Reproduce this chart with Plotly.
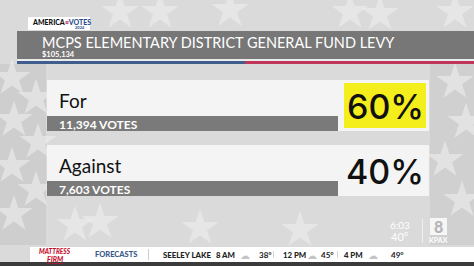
import plotly.graph_objects as go

# ---- data ----
title_text = "MCPS ELEMENTARY DISTRICT GENERAL FUND LEVY"
subtitle_text = "$105,134"
choices = ["For", "Against"]
votes = [11394, 7603]
percents = [60, 40]
winner = "For"

ticker_label = "FORECASTS"
ticker_city = "SEELEY LAKE"
ticker_times = ["8 AM", "12 PM", "4 PM"]
ticker_temps = [38, 45, 49]
clock_time = "6:03"
clock_temp = 40
station = "KPAX"
channel = "8"

# decorative stars of the flag backdrop
star_x = [12, 36, 14, 38, 12, 36, 14, 100, 455, 466, 445, 462, 300, 160, 230, 380, 120, 350, 455, 75, 200]
star_y = [78, 98, 120, 142, 166, 190, 214, 222, 82, 122, 160, 200, 230, 12, 10, 14, 12, 12, 12, 225, 228]

W, H = 474, 266
BG = "#dadada"
HEADER = "#777777"
BAR = "#7a7a7a"
PANEL = "#f4f4f4"
YELLOW = "#f4ee1c"

fig = go.Figure()

fig.add_trace(go.Scatter(
    x=star_x, y=star_y, mode="markers",
    marker=dict(symbol="star", size=28, color="rgba(238,238,238,0.6)", line=dict(width=0)),
    hoverinfo="skip", showlegend=False))

shapes = []
ann = []

def rect(x0, y0, x1, y1, color, layer="above"):
    shapes.append(dict(type="rect", xref="x", yref="y", x0=x0, y0=y0, x1=x1, y1=y1,
                       fillcolor=color, line=dict(width=0), layer=layer))

def text(x, y, s, size, color, family="Lato", weight=400, xanchor="left", yanchor="middle", style="normal"):
    ann.append(dict(x=x, y=y, xref="x", yref="y", text=s, showarrow=False,
                    xanchor=xanchor, yanchor=yanchor, borderpad=0,
                    align="left" if xanchor == "left" else "center",
                    font=dict(size=size, color=color, family=family, weight=weight, style=style)))

# darker flag side strips (behind stars)
rect(0, 64, 46, 245, "#cecece", layer="below")
rect(430, 64, W, 245, "#d0d0d0", layer="below")

# header
rect(17, 31, W, 59, HEADER)
rect(17, 59, W, 61, "#ebebeb")
rect(17, 61, 245, 64, "#3f5e8e")
rect(245, 61, W, 64, "#c0355a")
text(41, 42, title_text, 14.5, "white", family="Lato", weight=400)
text(41, 54, subtitle_text, 7.5, "white", family="Lato", weight=700)

# America votes logo
rect(28, 17, 90, 30, "white")
text(31, 22, "AMERICA<span style='color:#c0355a'>≡</span><span style='color:#2a4f8f'>VOTES</span>",
     7, "#111111", family="Lato", weight=900)
text(74, 27.5, "2024", 4, "#2a4f8f", family="Lato", weight=700)

# result panels
panel_top = [80, 145]
for i, c in enumerate(choices):
    t = panel_top[i]
    rect(47, t, 429, t + 51, PANEL)
    rect(47, t + 36, 338, t + 51, BAR)
    text(58, t + 20, c, 19, "#111111", family="Lato", weight=400)
    text(58, t + 44, f"{votes[i]:,} VOTES", 12, "white", family="Lato", weight=700)
    if c == winner:
        rect(344, t + 3, 426, t + 48, YELLOW)
    text(385, t + 26, f"{percents[i]}%", 34, "#111111", family="Inter", weight=500, xanchor="center")

# clock and station bug
text(400, 225, clock_time, 10, "white", family="Lato", weight=400, xanchor="center")
text(400, 236, f"{clock_temp}°", 11, "white", family="Lato", weight=400, xanchor="center")
rect(422, 219, 423, 243, "#f0f0f0")
rect(430, 218, 447, 235, "rgba(250,250,250,0.9)")
text(438.5, 226.5, channel, 16, "#b5b5b5", family="Lato", weight=900, xanchor="center")
text(438.5, 240, station, 7, "white", family="Lato", weight=700, xanchor="center")

# ticker
rect(30, 247, W, 262, "white")
rect(0, 262, W, H, "#3b3b3b")
text(55, 251, "MATTRESS", 6.5, "#c8102e", family="Lato", weight=900, xanchor="center", style="italic")
text(55, 258.5, "<u>FIRM</u>", 7, "#c8102e", family="Lato", weight=900, xanchor="center", style="italic")
text(94, 254.5, ticker_label, 7.5, "#3a5a8c", family="Lato", weight=900)
rect(148, 249, 149, 260, "#cccccc")
text(162, 254.5, ticker_city, 7.8, "#222222", family="Lato", weight=900)
tx = [215, 282, 343]
icon_dx = [30, 30, 30]
temp_dx = [43, 38, 47]
for i in range(len(ticker_times)):
    text(tx[i], 254.5, ticker_times[i], 7.8, "#222222", family="Lato", weight=900)
    ann.append(dict(x=tx[i] + icon_dx[i], y=254.5, xref="x", yref="y", text="☁", showarrow=False,
                    xanchor="center", yanchor="middle", font=dict(size=10, color="#c4c4c4")))
    text(tx[i] + temp_dx[i], 254.5, f"{ticker_temps[i]}°", 8, "#222222", family="Lato", weight=700)
    if i < 2:
        sx = tx[i] + (58 if i == 0 else 55)
        rect(sx, 251, sx + 0.8, 258, "#cccccc")

fig.update_layout(
    width=W, height=H, margin=dict(l=0, r=0, t=0, b=0),
    paper_bgcolor=BG, plot_bgcolor=BG,
    xaxis=dict(range=[0, W], visible=False, fixedrange=True),
    yaxis=dict(range=[H, 0], visible=False, fixedrange=True),
    shapes=shapes, annotations=ann, showlegend=False,
)

fig.write_html("out.html")
